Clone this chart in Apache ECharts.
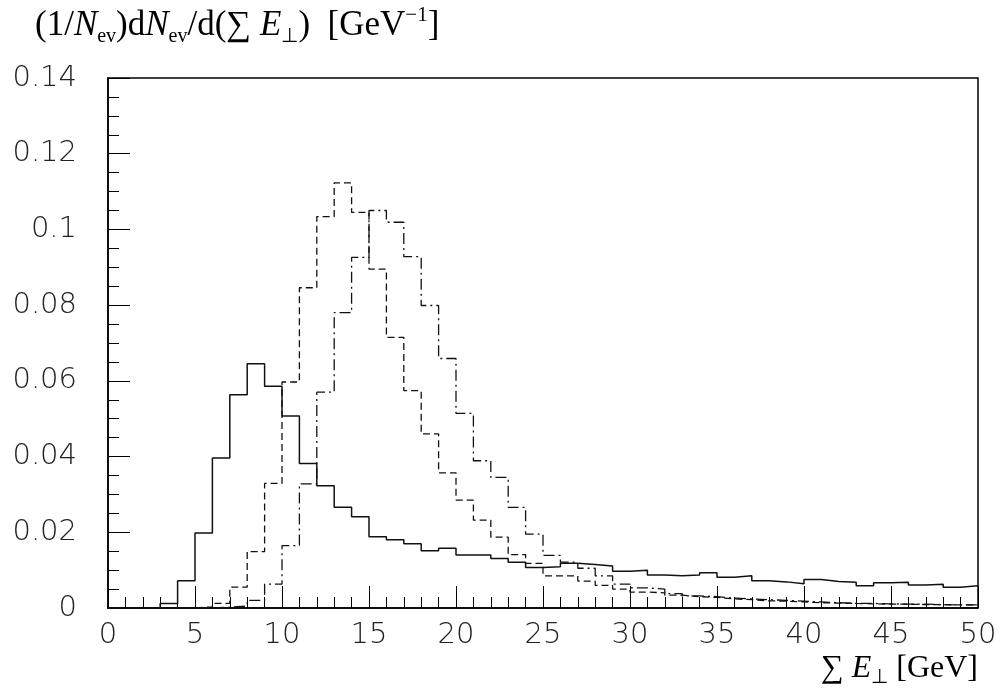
<!DOCTYPE html>
<html>
<head>
<meta charset="utf-8">
<script src="https://cdn.jsdelivr.net/npm/echarts@6/dist/echarts.min.js"></script>
<style>
  html, body { margin: 0; padding: 0; background: #fff; }
  #chart { width: 1002px; height: 694px; }
</style>
</head>
<body>
<div id="chart"></div>
<script>
// bin edges 0..50 GeV, 1 GeV bins
var binWidth = 1;
var xTicks = [0, 5, 10, 15, 20, 25, 30, 35, 40, 45, 50];
var yTicks = [0, 0.02, 0.04, 0.06, 0.08, 0.1, 0.12, 0.14];

// solid histogram
var solidVals = [
  0, 0, 0, 0.0012, 0.0072, 0.0198, 0.0396, 0.0563, 0.0645, 0.0586,
  0.0507, 0.0382, 0.0323, 0.0266, 0.0241, 0.0188, 0.0180, 0.0170, 0.0151, 0.0158,
  0.0140, 0.0140, 0.0131, 0.0121, 0.0107, 0.0109, 0.0118, 0.0115, 0.0111, 0.0097,
  0.0100, 0.0087, 0.0085, 0.0087, 0.0093, 0.0081, 0.0085, 0.0072, 0.0069, 0.0064,
  0.0075, 0.0070, 0.0068, 0.0059, 0.0067, 0.0068, 0.0061, 0.0063, 0.0055, 0.0059
];
// dashed histogram
var dashedVals = [
  0, 0, 0, 0, 0, 0.0003, 0.0012, 0.0055, 0.0149, 0.0329,
  0.0597, 0.0846, 0.1034, 0.1123, 0.1045, 0.0895, 0.0715, 0.0574, 0.0460, 0.0357,
  0.0285, 0.0232, 0.0187, 0.0141, 0.0118, 0.0085, 0.0085, 0.0071, 0.0060, 0.0050,
  0.0042, 0.0040, 0.0034, 0.0030, 0.0028, 0.0024, 0.0022, 0.0019, 0.0018, 0.0016,
  0.0014, 0.0013, 0.0012, 0.0011, 0.0010, 0.0010, 0.0009, 0.0009, 0.0008, 0.0008
];
// dash-dotted histogram
var dashDotVals = [
  0, 0, 0, 0, 0, 0, 0.0002, 0.0005, 0.0020, 0.0063,
  0.0165, 0.0328, 0.0570, 0.0780, 0.0926, 0.1050, 0.1019, 0.0928, 0.0799, 0.0659,
  0.0514, 0.0389, 0.0345, 0.0266, 0.0195, 0.0139, 0.0121, 0.0105, 0.0085, 0.0063,
  0.0053, 0.0050, 0.0038, 0.0032, 0.0030, 0.0026, 0.0024, 0.0022, 0.0020, 0.0018,
  0.0016, 0.0014, 0.0012, 0.0012, 0.0011, 0.0010, 0.0010, 0.0009, 0.0008, 0.0008
];

// histogram -> step points (left edge of each bin, plus closing right edge)
function toSteps(vals) {
  var pts = [];
  for (var i = 0; i < vals.length; i++) pts.push([i * binWidth, vals[i]]);
  pts.push([vals.length * binWidth, vals[vals.length - 1]]);
  return pts;
}

var tickFont = { fontFamily: 'DejaVu Sans', fontWeight: 200, fontSize: 29, color: '#222' };
var serif = 'Liberation Serif';

var chart = echarts.init(document.getElementById('chart'));
var option = {
  animation: false,
  backgroundColor: '#fff',
  title: {
    text: '(1/{i|N}{s|ev})d{i|N}{s|ev}/d(∑ {i|E}{s|⊥})  [GeV{p|−1}]',
    left: 30,
    top: 0,
    textStyle: {
      fontFamily: serif,
      fontWeight: 'normal',
      fontSize: 35,
      color: '#000',
      lineHeight: 42,
      rich: {
        i: { fontFamily: serif, fontStyle: 'italic', fontSize: 35, lineHeight: 42 },
        s: { fontFamily: serif, fontSize: 20, lineHeight: 18, verticalAlign: 'bottom' },
        p: { fontFamily: serif, fontSize: 21, lineHeight: 24, verticalAlign: 'top' }
      }
    }
  },
  graphic: [{
    type: 'text',
    right: 24,
    top: 650,
    style: {
      text: '∑ {i|E}{s|⊥} [GeV]',
      font: '32px "Liberation Serif"',
      fill: '#000',
      lineHeight: 38,
      rich: {
        i: { fontFamily: serif, fontStyle: 'italic', fontSize: 32, lineHeight: 38 },
        s: { fontFamily: serif, fontSize: 20, lineHeight: 17, verticalAlign: 'bottom' }
      }
    }
  }],
  grid: {
    left: 108, right: 24, top: 78, bottom: 86,
    containLabel: false, outerBoundsMode: 'none',
    show: true, borderColor: '#000', borderWidth: 1.5, backgroundColor: 'transparent'
  },
  xAxis: {
    type: 'value',
    min: xTicks[0],
    max: xTicks[xTicks.length - 1],
    interval: xTicks[1] - xTicks[0],
    axisLine: { show: true, lineStyle: { color: '#000', width: 1.5 } },
    axisTick: { show: true, inside: true, length: 22, lineStyle: { color: '#000', width: 1 } },
    minorTick: { show: true, splitNumber: 5, length: 11, lineStyle: { color: '#000', width: 1 } },
    splitLine: { show: false },
    axisLabel: Object.assign({ margin: 13 }, tickFont)
  },
  yAxis: {
    type: 'value',
    min: yTicks[0],
    max: yTicks[yTicks.length - 1],
    interval: yTicks[1] - yTicks[0],
    axisLine: { show: true, lineStyle: { color: '#000', width: 1.5 } },
    axisTick: { show: true, inside: true, length: 22, lineStyle: { color: '#000', width: 1 } },
    minorTick: { show: true, splitNumber: 4, length: 11, lineStyle: { color: '#000', width: 1 } },
    splitLine: { show: false },
    axisLabel: Object.assign({ margin: 31, formatter: function (v) { return String(+v.toFixed(2)); } }, tickFont)
  },
  series: [
    {
      name: 'solid', type: 'line', step: 'end', symbol: 'none',
      lineStyle: { color: '#111', width: 1.5, type: 'solid' },
      data: toSteps(solidVals)
    },
    {
      name: 'dashed', type: 'line', step: 'end', symbol: 'none',
      lineStyle: { color: '#111', width: 1.3, type: [7, 4] },
      data: toSteps(dashedVals)
    },
    {
      name: 'dashdot', type: 'line', step: 'end', symbol: 'none',
      lineStyle: { color: '#111', width: 1.3, type: [11, 4, 2, 4] },
      data: toSteps(dashDotVals)
    }
  ]
};
chart.setOption(option);
</script>
</body>
</html>
